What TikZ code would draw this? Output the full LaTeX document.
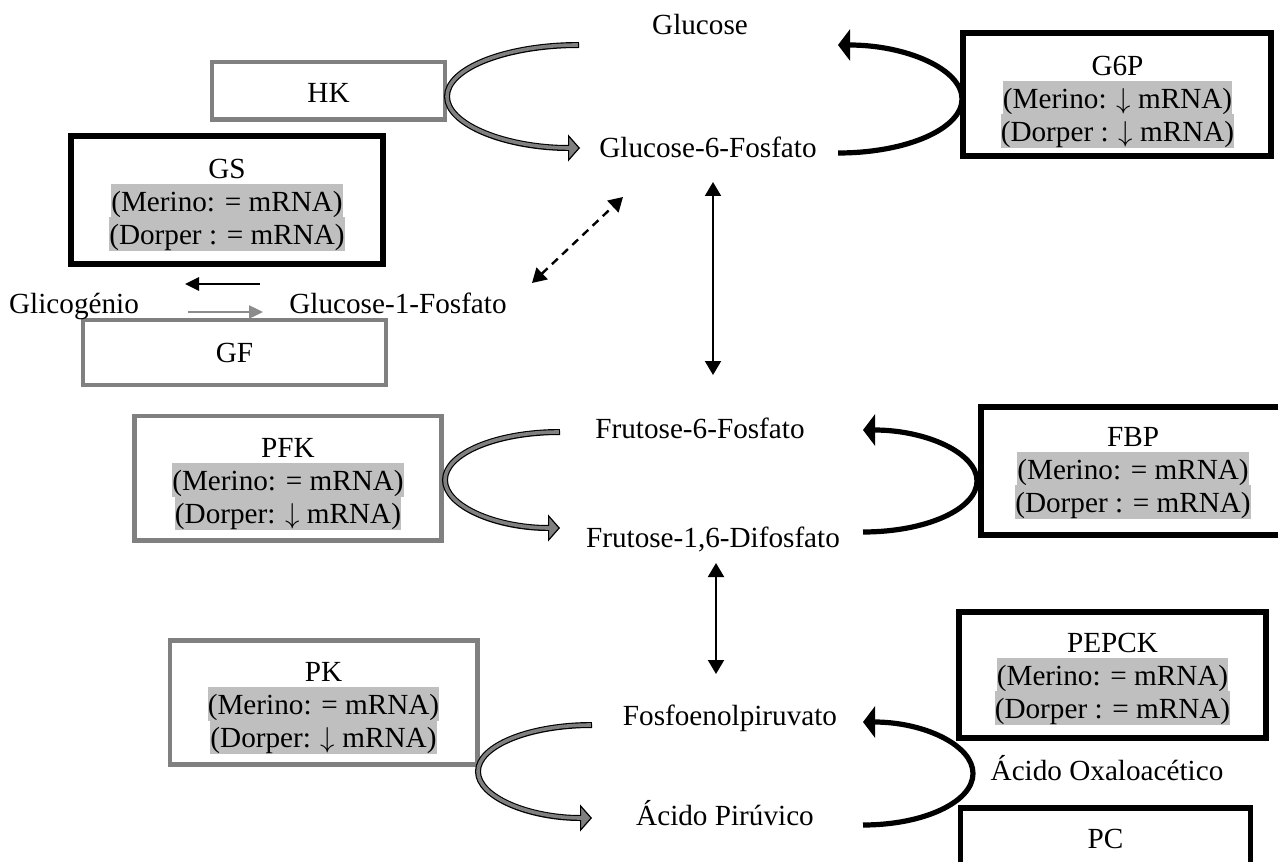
\documentclass[tikz,border=0pt]{standalone}
\usepackage{fontspec}
\setmainfont{Liberation Serif}
\usetikzlibrary{arrows.meta}
\definecolor{hlgray}{RGB}{191,191,191}
\definecolor{framegray}{RGB}{128,128,128}
\definecolor{shaftgray}{RGB}{128,128,128}
\definecolor{thingray}{RGB}{140,140,140}
\setlength{\parskip}{0pt}
\setlength{\lineskiplimit}{-20pt}
% one line of text, slightly taller than the line pitch so shaded lines join
\newcommand{\lnstrut}{\rule[-3.3pt]{0pt}{17pt}}
% shaded line
\newcommand{\hlt}[1]{{\setlength{\fboxsep}{0pt}\colorbox{hlgray}{\lnstrut#1}}}
\newcommand{\dn}{$\downarrow$}

\begin{document}
\begin{tikzpicture}[x=0.5pt,y=-0.5pt,
  font=\fontsize{14.6}{16.5}\selectfont,
  blackbox/.style={draw=black, line width=2.8pt, inner sep=0pt},
  greybox/.style={draw=framegray, line width=2.3pt, inner sep=0pt},
  boxtext/.style={anchor=north, inner sep=0pt, align=center},
  metab/.style={anchor=base, inner sep=0pt},
  thinboth/.style={line width=1pt,
    arrows={Triangle[length=7pt,width=8pt]-Triangle[length=7pt,width=8pt]}},
  hollowout/.style={draw=black, line width=3pt,
    arrows={-Triangle[length=6pt,width=13.5pt,fill=shaftgray,line width=0.6pt]}},
  hollowin/.style={draw=shaftgray, line width=1.8pt, shorten >=5pt, shorten <=0.6pt},
  boldcurve/.style={draw=black, line width=2.6pt,
    arrows={-Triangle[length=6pt,width=15.5pt]}}]

\useasboundingbox (0,0) rectangle (1278,861);
\clip (0,0) rectangle (1278,861);
\fill[white] (0,0) rectangle (1278,861);

% ---- enzyme boxes ----
\node[greybox, minimum width=116.5pt, minimum height=28.75pt] (hk) at (328.5,90.75) {};
\node[boxtext] (hkt) at (328.5,75) {\lnstrut HK};

\node[blackbox, minimum width=154pt, minimum height=61.5pt] (g6pase) at (1117,94.5) {};
\node[boxtext] (g6pt) at (1117.5,47.5)
  {\lnstrut G6P\\\hlt{(Merino: \dn\ mRNA)}\\\hlt{(Dorper : \dn\ mRNA)}};

\node[blackbox, minimum width=156pt, minimum height=64pt] (gs) at (227,200) {};
\node[boxtext] (gst) at (227,150.5)
  {\lnstrut GS\\\hlt{(Merino: = mRNA)}\\\hlt{(Dorper : = mRNA)}};

\node[greybox, minimum width=151.5pt, minimum height=32.5pt] (gf) at (234.5,352.5) {};
\node[boxtext] (gft) at (234.5,334.5) {\lnstrut GF};

\node[greybox, minimum width=153.5pt, minimum height=62.25pt] (pfk) at (288,478.25) {};
\node[boxtext] (pfkt) at (288,430)
  {\lnstrut PFK\\\hlt{(Merino: = mRNA)}\\\hlt{(Dorper: \dn\ mRNA)}};

\node[blackbox, minimum width=152pt, minimum height=64pt] (fbp) at (1133,471) {};
\node[boxtext] (fbpt) at (1133,419)
  {\lnstrut FBP\\\hlt{(Merino: = mRNA)}\\\hlt{(Dorper : = mRNA)}};

\node[greybox, minimum width=153.75pt, minimum height=62pt] (pk) at (323.75,702.5) {};
\node[boxtext] (pkt) at (323.5,654)
  {\lnstrut PK\\\hlt{(Merino: = mRNA)}\\\hlt{(Dorper: \dn\ mRNA)}};

\node[blackbox, minimum width=153.5pt, minimum height=63pt] (pepck) at (1112.5,675) {};
\node[boxtext] (pepckt) at (1112.5,625)
  {\lnstrut PEPCK\\\hlt{(Merino: = mRNA)}\\\hlt{(Dorper : = mRNA)}};

\node[blackbox, minimum width=145pt, minimum height=63pt] (pc) at (1105.5,871) {};
\node[boxtext] (pct) at (1105.5,821) {\lnstrut PC};

% ---- metabolites ----
\node[metab] (glc)  at (700,35)   {Glucose};
\node[metab] (g6p)  at (708,158)  {Glucose-6-Fosfato};
\node[metab] (glyc) at (74,313)   {Glicogénio};
\node[metab] (g1p)  at (398,313)  {Glucose-1-Fosfato};
\node[metab] (f6p)  at (700,438)  {Frutose-6-Fosfato};
\node[metab] (f16)  at (713,547)  {Frutose-1,6-Difosfato};
\node[metab] (pep)  at (730,725)  {Fosfoenolpiruvato};
\node[metab] (pyr)  at (725,825)  {Ácido Pirúvico};
\node[metab] (oaa)  at (1107,780) {Ácido Oxaloacético};

% ---- connector end points ----
\coordinate (v1a) at (713,182);  \coordinate (v1b) at (713,375);
\coordinate (v2a) at (716,563);  \coordinate (v2b) at (716,674);
\coordinate (dga) at (532,283);  \coordinate (dgb) at (623,197);
\coordinate (gsa) at (260,284);  \coordinate (gsb) at (185,284);
\coordinate (gfa) at (188,312);  \coordinate (gfb) at (263,312);
\coordinate (hkS) at (579,45);   \coordinate (hkE) at (580,148);
\coordinate (pfkS) at (560,432); \coordinate (pfkE) at (560,528);
\coordinate (pkS) at (592,725);  \coordinate (pkE) at (592,818);
\coordinate (g6S) at (838,153);  \coordinate (g6E) at (838,45);
\coordinate (fbS) at (863,532);  \coordinate (fbE) at (863,430);
\coordinate (peS) at (863,825);  \coordinate (peE) at (863,722);

% ---- straight connectors ----
\draw[thinboth] (v1a) -- (v1b);
\draw[thinboth] (v2a) -- (v2b);
\draw[line width=1.2pt, dash pattern=on 4pt off 3pt,
  arrows={Triangle[length=7pt,width=8pt]-Triangle[length=7pt,width=8pt]}] (dga) -- (dgb);
\draw[line width=1.3pt, arrows={-Triangle[length=7pt,width=6.5pt]}] (gsa) -- (gsb);
\draw[thingray, line width=1.2pt, arrows={-Triangle[length=7pt,width=6.5pt]}] (gfa) -- (gfb);

% ---- hollow grey curved arrows (kinase steps) ----
\def\hkpath{(hkS) .. controls (506.65,45) and (447,68.06) .. (447,96.5)
  .. controls (447,124.94) and (506.65,148) .. (hkE)}
\def\pfkpath{(pfkS) .. controls (496.49,432) and (445,453.49) .. (445,480)
  .. controls (445,506.51) and (496.49,528) .. (pfkE)}
\def\pkpath{(pkS) .. controls (529.04,725) and (478,745.82) .. (478,771.5)
  .. controls (478,797.18) and (529.04,818) .. (pkE)}
\draw[hollowout] \hkpath;  \draw[hollowin] \hkpath;
\draw[hollowout] \pfkpath; \draw[hollowin] \pfkpath;
\draw[hollowout] \pkpath;  \draw[hollowin] \pkpath;

% ---- bold black curved arrows (reverse steps) ----
\draw[boldcurve] (g6S) .. controls (906.49,153) and (962,128.82) .. (962,99)
  .. controls (962,69.18) and (906.49,45) .. (g6E);
\draw[boldcurve] (fbS) .. controls (925.96,532) and (977,509.17) .. (977,481)
  .. controls (977,452.83) and (925.96,430) .. (fbE);
\draw[boldcurve] (peS) .. controls (923.75,825) and (973,801.94) .. (973,773.5)
  .. controls (973,745.06) and (923.75,722) .. (peE);
\end{tikzpicture}
\end{document}
